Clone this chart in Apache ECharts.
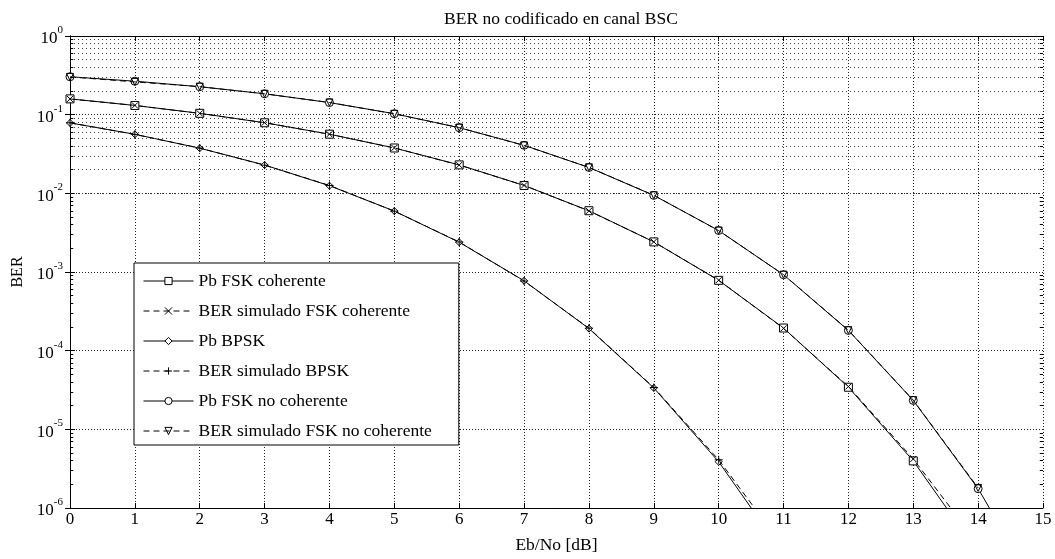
<!DOCTYPE html>
<html>
<head>
<meta charset="utf-8">
<script src="https://cdn.jsdelivr.net/npm/echarts@6/dist/echarts.min.js"></script>
<style>
  html, body { margin: 0; padding: 0; background: #fff; }
  #chart { width: 1055px; height: 559px; }
</style>
</head>
<body>
<div id="chart"></div>
<script>
// Eb/No in dB
const ebno = [0, 1, 2, 3, 4, 5, 6, 7, 8, 9, 10, 11, 12, 13, 14, 15];

// Theoretical bit error probabilities
const pbFskCoh = [0.1587, 0.1309, 0.1040, 0.0789, 0.0565, 0.0377, 0.0230, 0.01259, 0.00601, 0.002413, 0.000783, 0.000194, 3.43e-5, 3.97e-6, 2.70e-7, 9.4e-9];
const pbBpsk = [0.0786, 0.0563, 0.0375, 0.0229, 0.0125, 0.00595, 0.00239, 0.000773, 0.000191, 3.36e-5, 3.87e-6, 2.61e-7, 9.0e-9, 9.0e-11, null, null];
const pbFskNc = [0.3033, 0.2664, 0.2264, 0.1844, 0.1424, 0.1029, 0.0683, 0.0408, 0.02132, 0.009424, 0.003369, 0.000923, 0.000181, 2.33e-5, 1.76e-6, 6.8e-8];

// Simulated BER over the BSC
const simFskCoh = [0.1585, 0.1312, 0.1038, 0.0791, 0.0564, 0.0378, 0.0229, 0.01262, 0.00598, 0.00242, 0.000787, 0.000192, 3.50e-5, 4.2e-6, 3.5e-7, null];
const simBpsk = [0.0788, 0.0561, 0.0376, 0.0228, 0.0126, 0.00593, 0.00241, 0.000768, 0.000193, 3.40e-5, 4.1e-6, 3.2e-7, null, null, null, null];
const simFskNc = [0.3020, 0.2610, 0.2270, 0.1840, 0.1428, 0.1025, 0.0685, 0.0406, 0.0214, 0.00945, 0.00336, 0.000925, 0.000182, 2.35e-5, 1.8e-6, null];

// Legend names
const names = [
  'Pb FSK coherente',
  'BER simulado FSK coherente',
  'Pb BPSK',
  'BER simulado BPSK',
  'Pb FSK no coherente',
  'BER simulado FSK no coherente'
];

// Decades shown on the log axis
const decades = [-6, -5, -4, -3, -2, -1, 0];

const FONT = '"Liberation Serif", "Times New Roman", serif';
const INK = '#000';

const pairs = (ys) => ebno.map((x, i) => [x, ys[i]]);

// Minor grid values 2..9 x 10^k
const minorVals = [];
decades.slice(0, -1).forEach(k => {
  for (let m = 2; m <= 9; m++) minorVals.push(m * Math.pow(10, k));
});

const majorDot = { color: '#222', width: 1, type: [1, 2] };
const minorDot = { color: '#444', width: 1, type: [1, 3] };

const minorGrid = minorVals.map(v => ({ yAxis: v }));
const minorTicks = [];
minorVals.forEach(v => {
  minorTicks.push([{ coord: [0, v] }, { coord: [0.05, v] }]);
  minorTicks.push([{ coord: [14.95, v] }, { coord: [15, v] }]);
});

const crossPath = 'path://M0,0L10,10M10,0L0,10';
const plusPath = 'path://M5,0L5,10M0,5L10,5';
const triDownPath = 'path://M0,0L10,0L5,9Z';

function lineSeries(name, data, symbol, size, dashed, extra) {
  return Object.assign({
    name: name,
    type: 'line',
    data: pairs(data),
    xAxisIndex: 0,
    yAxisIndex: 0,
    symbol: symbol,
    symbolSize: size,
    showAllSymbol: true,
    connectNulls: false,
    clip: true,
    animation: false,
    lineStyle: { color: INK, width: 1, type: dashed ? [6, 4] : 'solid' },
    itemStyle: { color: dashed ? 'transparent' : '#fff', borderColor: INK, borderWidth: 1 },
    emphasis: { disabled: true },
    z: dashed ? 3 : 2
  }, extra || {});
}

const series = [
  lineSeries(names[0], pbFskCoh, 'rect', 8, false, {
    markLine: {
      silent: true, symbol: ['none', 'none'], label: { show: false }, animation: false,
      lineStyle: minorDot, data: minorGrid
    }
  }),
  lineSeries(names[1], simFskCoh, crossPath, 6, true),
  lineSeries(names[2], pbBpsk, 'diamond', 7, false),
  lineSeries(names[3], simBpsk, plusPath, 8, true),
  lineSeries(names[4], pbFskNc, 'circle', 8, false),
  lineSeries(names[5], simFskNc, triDownPath, 7, true),
  // short solid minor ticks on the left and right frame
  {
    type: 'line', data: [], xAxisIndex: 0, yAxisIndex: 0, animation: false, silent: true,
    markLine: {
      silent: true, symbol: ['none', 'none'], label: { show: false }, animation: false,
      lineStyle: { color: INK, width: 1, type: 'solid' }, data: minorTicks
    }
  }
];

const tickStyle = { show: true, inside: true, length: 5, lineStyle: { color: INK, width: 1 } };
const lineAxis = { show: true, lineStyle: { color: INK, width: 1 } };

const option = {
  backgroundColor: '#fff',
  animation: false,
  title: {
    text: 'BER no codificado en canal BSC',
    left: 556, top: 5, textAlign: 'center',
    textStyle: { fontFamily: FONT, fontSize: 17.5, fontWeight: 'normal', color: INK }
  },
  legend: {
    orient: 'vertical',
    left: 134, top: 263,
    data: names,
    itemWidth: 50, itemHeight: 9, itemGap: 12,
    padding: [9, 27, 5, 9],
    borderColor: INK, borderWidth: 1,
    backgroundColor: '#fff',
    lineStyle: { width: 1 },
    itemStyle: { borderWidth: 1 },
    textStyle: { fontFamily: FONT, fontSize: 17.5, color: INK },
    selectedMode: false,
    z: 10
  },
  grid: { left: 70, right: 12, top: 36, bottom: 47, containLabel: false },
  xAxis: [
    {
      type: 'value', min: 0, max: 15, interval: 1, position: 'bottom',
      name: 'Eb/No [dB]', nameLocation: 'middle', nameGap: 28,
      nameTextStyle: { fontFamily: FONT, fontSize: 17.5, color: INK },
      axisLine: lineAxis, axisTick: tickStyle,
      axisLabel: { fontFamily: FONT, fontSize: 17, color: INK, margin: 3 },
      splitLine: { show: true, lineStyle: majorDot }
    },
    {
      type: 'value', min: 0, max: 15, interval: 1, position: 'top',
      axisLine: lineAxis, axisTick: tickStyle, axisLabel: { show: false },
      splitLine: { show: false }
    }
  ],
  yAxis: [
    {
      type: 'log', logBase: 10, min: 1e-6, max: 1, splitNumber: 6, position: 'left',
      name: 'BER', nameLocation: 'middle', nameGap: 43, nameRotate: 90,
      nameTextStyle: { fontFamily: FONT, fontSize: 16, color: INK },
      axisLine: lineAxis, axisTick: tickStyle,
      axisLabel: {
        margin: 7,
        formatter: v => '{b|10}{e|' + Math.round(Math.log10(v)) + '}',
        rich: {
          b: { fontFamily: FONT, fontSize: 17, color: INK, verticalAlign: 'bottom' },
          e: { fontFamily: FONT, fontSize: 11, color: INK, verticalAlign: 'top', padding: [0, 0, 12, 0] }
        }
      },
      splitLine: { show: true, lineStyle: majorDot }
    },
    {
      type: 'log', logBase: 10, min: 1e-6, max: 1, splitNumber: 6, position: 'right',
      axisLine: lineAxis, axisTick: tickStyle, axisLabel: { show: false },
      splitLine: { show: false }
    }
  ],
  series: series
};

const chart = echarts.init(document.getElementById('chart'), null, { renderer: 'canvas' });
chart.setOption(option);
</script>
</body>
</html>
